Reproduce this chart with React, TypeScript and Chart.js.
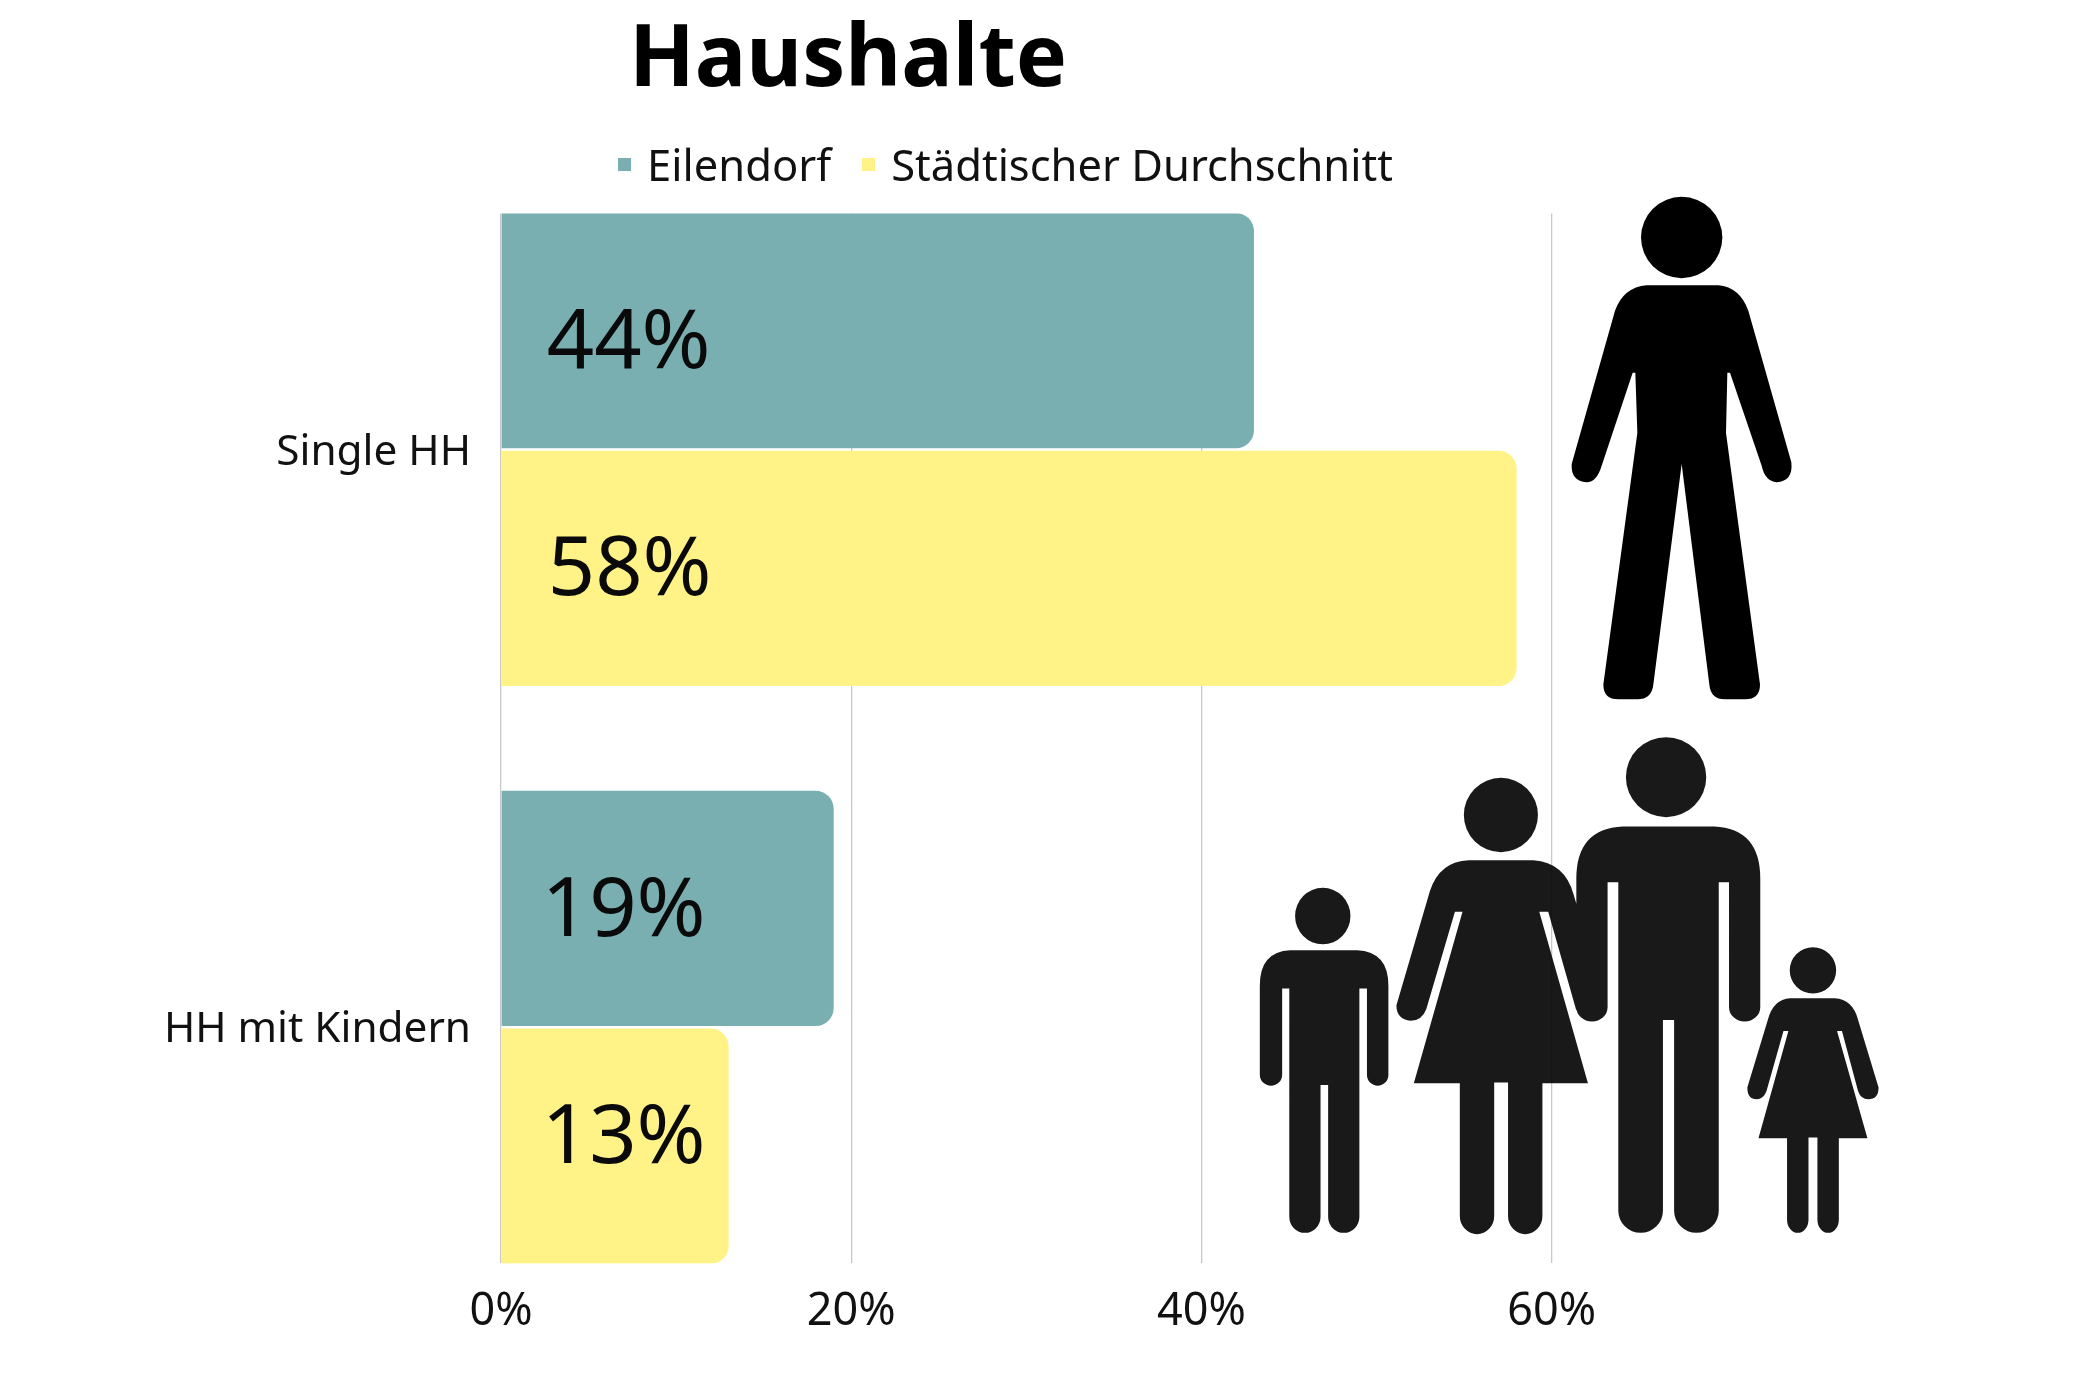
import React, { useEffect, useRef } from "react";
import { Chart, registerables } from "chart.js";

Chart.register(...registerables);

const categories = ["Single HH", "HH mit Kindern"];
const seriesNames = ["Eilendorf", "Städtischer Durchschnitt"];
const eilendorfValues = [43, 19];
const staedtischValues = [58, 13];
const eilendorfLabels = ["44%", "19%"];
const staedtischLabels = ["58%", "13%"];
const xTicks = [0, 20, 40, 60];
const titleText = "Haushalte";

const TEAL = "#79AFB1";
const YELLOW = "#FFF287";
const FONT = "'Noto Sans', sans-serif";

const manHead = "M273 167 A122 118 0 1 1 517 167 A122 118 0 1 1 273 167 Z";
const manBody =
  "M290 306 L505 306 Q570 312 595 380 L724 820 Q730 875 680 878 Q645 875 635 830 L540 560 L532 560 L528 735 L630 1465 Q630 1508 585 1508 L525 1508 Q482 1508 478 1465 L395 825 L310 1465 Q305 1508 262 1508 L205 1508 Q160 1508 160 1465 L262 735 L256 560 L248 560 L155 830 Q140 878 110 878 Q62 875 65 825 L195 380 Q220 312 290 306 Z";

const family = [
  "M101 605 A62 79 0 1 1 225 605 A62 79 0 1 1 101 605 Z",
  "M90 701 L240 701 Q310 705 310 800 L310 1050 A24 30 0 0 1 262 1050 L262 808 L245 808 L245 1447 A35 45 0 0 1 175 1447 L175 1078 L158 1078 L158 1447 A35 45 0 0 1 88 1447 L88 808 L72 808 L72 1050 A25 30 0 0 1 22 1050 L22 800 Q22 705 90 701 Z",
  "M479 322 A83 104 0 1 1 645 322 A83 104 0 1 1 479 322 Z",
  "M490 449 L635 449 Q705 455 725 545 L800 860 Q798 898 765 898 Q740 898 730 865 L668 593 L648 593 L757 1073 L655 1073 L655 1445 A38 50 0 0 1 578 1445 L578 1071 L547 1071 L547 1445 A38 50 0 0 1 470 1445 L470 1073 L367 1073 L476 593 L459 593 L395 865 Q385 898 360 898 Q328 895 328 855 L403 535 Q425 452 490 449 Z",
  "M842 216 A90 112 0 1 1 1022 216 A90 112 0 1 1 842 216 Z",
  "M835 354 L1040 354 Q1143 360 1143 500 L1143 860 A35 40 0 0 1 1073 860 L1073 510 L1050 510 L1050 1430 A50 62 0 0 1 950 1430 L950 896 L925 896 L925 1430 A50 62 0 0 1 825 1430 L825 510 L801 510 L801 860 A35 40 0 0 1 731 860 L731 500 Q731 360 835 354 Z",
  "M1209 757 A52 65 0 1 1 1313 757 A52 65 0 1 1 1209 757 Z",
  "M1210 835 L1310 835 Q1350 838 1362 895 L1408 1085 Q1408 1118 1385 1118 Q1368 1118 1362 1095 L1326 927 L1315 927 L1383 1227 L1319 1227 L1319 1455 A24 37 0 0 1 1271 1455 L1271 1225 L1251 1225 L1251 1455 A24 37 0 0 1 1203 1455 L1203 1227 L1139 1227 L1206 927 L1195 927 L1157 1095 Q1150 1118 1135 1118 Q1114 1118 1114 1085 L1160 895 Q1172 838 1210 835 Z",
];

function legendMarker(color: string) {
  const c = document.createElement("canvas");
  c.width = 13;
  c.height = 22;
  const g = c.getContext("2d") as CanvasRenderingContext2D;
  g.fillStyle = color;
  g.fillRect(0, 0, 13, 13);
  return c;
}

const placementPlugin = {
  id: "placement",
  beforeDraw(chart: any) {
    const t = chart.titleBlock;
    if (t) {
      t.left = 848 - 1050;
      t.right = 848 + 1050;
    }
    const l = chart.legend;
    if (l) {
      l.left = 1008.6 - 1050;
      l.right = 1008.6 + 1050;
      l.top = 110;
    }
  },
};

const labelOffsetsY = [
  [14, 4],
  [3, -7],
];
const labelOffsetsX = [
  [45, 40],
  [46, 40],
];

const valueLabelPlugin = {
  id: "valueLabels",
  afterDatasetsDraw(chart: any) {
    const ctx = chart.ctx;
    const texts = [eilendorfLabels, staedtischLabels];
    ctx.save();
    ctx.fillStyle = "#0a0a0a";
    ctx.font = `83px ${FONT}`;
    ctx.textAlign = "left";
    ctx.textBaseline = "middle";
    chart.data.datasets.forEach((_: any, d: number) => {
      chart.getDatasetMeta(d).data.forEach((bar: any, i: number) => {
        ctx.fillText(texts[d][i], bar.base + labelOffsetsX[d][i], bar.y + labelOffsetsY[d][i]);
      });
    });
    ctx.restore();
  },
};

const iconsPlugin = {
  id: "icons",
  afterDraw(chart: any) {
    const ctx = chart.ctx;
    ctx.save();
    ctx.translate(1550, 180);
    ctx.scale(1 / 3, 1 / 2.904);
    ctx.fillStyle = "#000000";
    ctx.fill(new Path2D(manHead));
    ctx.fill(new Path2D(manBody));
    ctx.restore();
    ctx.save();
    ctx.translate(1250, 700);
    ctx.scale(1 / 2.24, 1 / 2.8);
    ctx.fillStyle = "rgba(0,0,0,0.9)";
    const whole = new Path2D();
    family.forEach((p) => whole.addPath(new Path2D(p)));
    ctx.fill(whole, "nonzero");
    ctx.restore();
  },
};

export default function App() {
  const ref = useRef<HTMLCanvasElement>(null);
  useEffect(() => {
    document.body.style.margin = "0";
    document.body.style.background = "#ffffff";
    const markers = [legendMarker(TEAL), legendMarker(YELLOW)];
    const chart = new Chart(ref.current as HTMLCanvasElement, {
      type: "bar",
      data: {
        datasets: [
          {
            label: seriesNames[0],
            data: eilendorfValues.map((x, y) => ({ x, y })),
            backgroundColor: TEAL,
            borderRadius: { topRight: 18, bottomRight: 18, topLeft: 0, bottomLeft: 0 },
            borderSkipped: false,
          },
          {
            label: seriesNames[1],
            data: staedtischValues.map((x, y) => ({ x, y })),
            backgroundColor: YELLOW,
            borderRadius: { topRight: 18, bottomRight: 18, topLeft: 0, bottomLeft: 0 },
            borderSkipped: false,
          },
        ],
      } as any,
      options: {
        indexAxis: "y",
        responsive: false,
        animation: false,
        devicePixelRatio: 1,
        categoryPercentage: 0.8228,
        barPercentage: 0.99,
        layout: { padding: { left: 0, top: 0, bottom: 0, right: 548.4 } },
        plugins: {
          tooltip: { enabled: false },
          title: {
            display: true,
            text: titleText,
            color: "#000000",
            font: { family: FONT, size: 86, weight: "bold", lineHeight: 1 },
            padding: { top: 18, bottom: 18.6 },
          },
          legend: {
            display: true,
            position: "top",
            labels: {
              color: "#111111",
              font: { family: FONT, size: 43.5 },
              usePointStyle: true,
              pointStyleWidth: 1,
              boxHeight: 13,
              padding: 37.3,
              generateLabels: (c: any) =>
                Chart.defaults.plugins.legend.labels
                  .generateLabels(c)
                  .map((item: any, i: number) => ({ ...item, pointStyle: markers[i] })),
            },
          },
        },
        scales: {
          x: {
            type: "linear",
            position: "bottom",
            min: 0,
            max: 60,
            afterBuildTicks: (s: any) => {
              s.ticks = xTicks.map((value) => ({ value }));
            },
            afterFit: (s: any) => {
              s.height = 136.6;
            },
            grid: { display: true, color: "#c8c8c8", lineWidth: 1.3, drawTicks: false },
            border: { display: false },
            ticks: {
              color: "#111111",
              font: { family: FONT, size: 45 },
              padding: 22,
              maxRotation: 0,
              callback: (v: any) => `${v}%`,
            },
          },
          y: {
            type: "linear",
            reverse: true,
            offset: false,
            min: -0.4087,
            max: 1.4087,
            afterBuildTicks: (s: any) => {
              s.ticks = categories.map((_, value) => ({ value }));
            },
            afterFit: (s: any) => {
              s.width = 501;
            },
            grid: { display: false },
            border: { display: false },
            ticks: {
              color: "#111111",
              font: { family: FONT, size: 42.3 },
              padding: 22,
              labelOffset: 3,
              callback: (v: any) => categories[v],
            },
          },
        },
      } as any,
      plugins: [placementPlugin, valueLabelPlugin, iconsPlugin],
    });
    return () => chart.destroy();
  }, []);
  return (
    <canvas
      ref={ref}
      width={2100}
      height={1400}
      style={{ display: "block", width: 2100, height: 1400 }}
    />
  );
}
